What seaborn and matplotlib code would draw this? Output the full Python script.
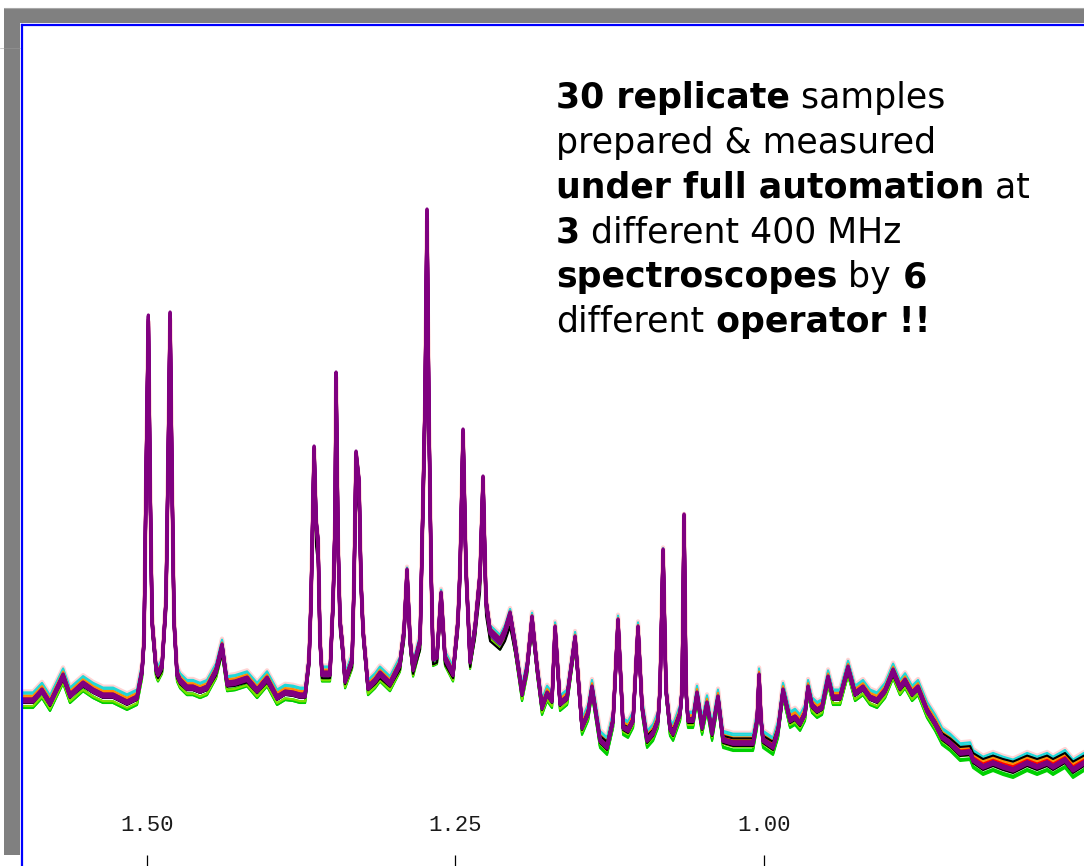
import matplotlib
matplotlib.use("Agg")
import matplotlib.pyplot as plt
import numpy as np
import pandas as pd
import seaborn as sns
from matplotlib.patches import Rectangle
from matplotlib.lines import Line2D

# Reference 1H NMR trace (chemical shift in ppm, intensity in a.u.)
shift_ppm = [
    1.6011, 1.5922, 1.5849, 1.5784, 1.5678, 1.5622, 1.5516, 1.5435, 1.5354, 1.5273,
    1.5160, 1.5079, 1.5038, 1.5022, 1.5006, 1.4987, 1.4973, 1.4957, 1.4925, 1.4909,
    1.4876, 1.4844, 1.4828, 1.4811, 1.4795, 1.4779, 1.4755, 1.4730, 1.4674, 1.4625,
    1.4568, 1.4512, 1.4439, 1.4390, 1.4349, 1.4285, 1.4187, 1.4106, 1.4066, 1.4025,
    1.3944, 1.3879, 1.3815, 1.3758, 1.3717, 1.3685, 1.3669, 1.3644, 1.3628, 1.3612,
    1.3596, 1.3580, 1.3515, 1.3490, 1.3474, 1.3466, 1.3450, 1.3434, 1.3418, 1.3393,
    1.3336, 1.3320, 1.3304, 1.3280, 1.3264, 1.3247, 1.3207, 1.3150, 1.3110, 1.3029,
    1.2948, 1.2915, 1.2891, 1.2866, 1.2842, 1.2785, 1.2761, 1.2745, 1.2729, 1.2713,
    1.2696, 1.2680, 1.2648, 1.2615, 1.2583, 1.2518, 1.2478, 1.2461, 1.2437, 1.2413,
    1.2380, 1.2340, 1.2299, 1.2275, 1.2251, 1.2218, 1.2178, 1.2137, 1.2097, 1.2056,
    1.2016, 1.1959, 1.1918, 1.1878, 1.1837, 1.1797, 1.1756, 1.1716, 1.1691, 1.1651,
    1.1594, 1.1529, 1.1473, 1.1424, 1.1392, 1.1327, 1.1270, 1.1221, 1.1181, 1.1140,
    1.1100, 1.1059, 1.1019, 1.0986, 1.0946, 1.0897, 1.0857, 1.0841, 1.0816, 1.0792,
    1.0760, 1.0735, 1.0678, 1.0662, 1.0646, 1.0630, 1.0614, 1.0573, 1.0541, 1.0500,
    1.0460, 1.0419, 1.0371, 1.0330, 1.0249, 1.0168, 1.0087, 1.0054, 1.0038, 1.0022,
    1.0006, 0.9925, 0.9884, 0.9844, 0.9787, 0.9747, 0.9706, 0.9666, 0.9641, 0.9609,
    0.9568, 0.9528, 0.9479, 0.9439, 0.9382, 0.9317, 0.9260, 0.9196, 0.9139, 0.9082,
    0.9017, 0.8952, 0.8896, 0.8855, 0.8798, 0.8750, 0.8677, 0.8612, 0.8555, 0.8490,
    0.8409, 0.8328, 0.8304, 0.8223, 0.8142, 0.8061, 0.7980, 0.7866, 0.7785, 0.7704,
    0.7656, 0.7559, 0.7494, 0.7405,
]
intensity = [
    60, 60, 70, 57, 85, 65, 77, 70, 65, 65,
    58, 63, 90, 120, 280, 444, 280, 140, 92, 87,
    95, 160, 290, 447, 280, 140, 87, 80, 73, 73,
    70, 73, 90, 115, 77, 78, 82, 70, 76, 82,
    63, 68, 67, 65, 65, 100, 160, 313, 240, 220,
    120, 87, 87, 160, 240, 387, 220, 140, 120, 80,
    100, 180, 308, 280, 180, 130, 73, 80, 87, 77,
    97, 130, 190, 120, 92, 120, 267, 360, 550, 343,
    193, 103, 105, 167, 103, 87, 140, 193, 330, 193,
    100, 133, 187, 283, 160, 130, 125, 120, 130, 147,
    117, 67, 93, 143, 93, 53, 67, 60, 133, 57,
    63, 123, 33, 47, 73, 20, 13, 40, 140, 33,
    30, 40, 133, 53, 20, 27, 40, 70, 210, 70,
    32, 27, 47, 70, 245, 70, 40, 40, 67, 33,
    57, 27, 63, 20, 17, 17, 17, 40, 85, 40,
    20, 13, 30, 70, 40, 43, 37, 47, 73, 55,
    50, 53, 83, 63, 63, 93, 67, 73, 63, 60,
    70, 90, 73, 80, 67, 73, 50, 37, 23, 17,
    7, 8, 0, -7, -3, -7, -10, -3, -7, -3,
    -7, 0, -10, -3,
]

# 30 replicate acquisitions: trace colour, baseline offset and scaling
rep_color = [
    "#ffd4d4", "#ffd4d4", "#ffd4d4", "#20d8d8", "#20d8d8", "#20d8d8",
    "#00d000", "#00d000", "#00d000", "#80e000",
    "#ff8c00", "#ff8c00", "#ff8c00", "#ff0000", "#ff0000", "#ff0000",
    "#3355ff", "#3355ff", "#000000", "#000000", "#000000",
    "#800080", "#800080", "#800080", "#800080", "#800080",
    "#800080", "#800080", "#800080", "#800080",
]
rep_offset = [
    11, 8, 6, 10, 8, 6,
    -8, -6, -7, -3,
    6, 4, 3, 2, -1, 3,
    1, -2, 7, 0, -3,
    0, 1, -1, 0, 1, -1, 0, 0, 1,
]
rep_gain = [
    0.96, 0.97, 0.95, 0.96, 0.97, 0.94,
    1.00, 0.97, 1.01, 0.95,
    0.97, 0.96, 0.99, 0.99, 1.00, 0.93,
    0.95, 0.99, 0.86, 0.97, 1.00,
    1.00, 0.99, 1.00, 0.98, 1.00, 0.99, 0.97, 1.00, 0.99,
]

tick_ppm = [1.50, 1.25, 1.00]
tick_labels = ["1.50", "1.25", "1.00"]

note_lines = [
    [("30 replicate", "bold"), (" samples", "normal")],
    [("prepared & measured", "normal")],
    [("under full automation", "bold"), (" at", "normal")],
    [("3", "bold"), (" different 400 MHz", "normal")],
    [("spectroscopes", "bold"), (" by", "normal"), (" 6", "bold")],
    [("different", "normal"), (" operator !!", "bold")],
]

# Long-form table of all replicate spectra
base = np.asarray(intensity, dtype=float)
frames = []
for i, (c, off, g) in enumerate(zip(rep_color, rep_offset, rep_gain)):
    frames.append(pd.DataFrame({
        "ppm": shift_ppm,
        "signal": base * g + off,
        "replicate": f"r{i + 1:02d}",
        "color": c,
    }))
spectra = pd.concat(frames, ignore_index=True)
palette = {f"r{i + 1:02d}": c for i, c in enumerate(rep_color)}

sns.set_style("white")

W, H = 1084, 866
fig = plt.figure(figsize=(W / 100, H / 100), dpi=100)
fig.patch.set_facecolor("white")


def fx(px):
    return px / W


def fy(py):
    return 1 - py / H


# grey window frame
fig.patches.append(Rectangle((fx(4), fy(23)), fx(1080), 15 / H,
                             transform=fig.transFigure, facecolor="#808080",
                             edgecolor="none", zorder=0))
fig.patches.append(Rectangle((fx(4), fy(855)), fx(16), 847 / H,
                             transform=fig.transFigure, facecolor="#808080",
                             edgecolor="none", zorder=0))
fig.add_artist(Line2D([fx(4), 1], [fy(7.5), fy(7.5)], transform=fig.transFigure,
                      color="#a8a8a8", lw=0.8))
fig.add_artist(Line2D([0, fx(20)], [fy(48), fy(48)], transform=fig.transFigure,
                      color="#9a9a9a", lw=0.6, alpha=0.6))

ax = fig.add_axes([fx(22), 0, 1 - fx(22), (H - 25) / H])
ax.set_facecolor("white")

halo = spectra[spectra["color"] == "#ffd4d4"]
others = spectra[~spectra["color"].isin(["#800080", "#ffd4d4"])]
purple = spectra[spectra["color"] == "#800080"]
line_kw = dict(estimator=None, sort=False, legend=False, ax=ax,
               solid_joinstyle="round", solid_capstyle="round")
sns.lineplot(data=halo, x="ppm", y="signal", hue="replicate", palette=palette,
             lw=3.0, **line_kw)
sns.lineplot(data=others, x="ppm", y="signal", hue="replicate", palette=palette,
             lw=1.5, **line_kw)
sns.lineplot(data=purple, x="ppm", y="signal", hue="replicate", palette=palette,
             lw=2.3, **line_kw)

ax.set_xlim(1.6011, 0.7405)
ax.set_ylim(-106, 735)
ax.set_xlabel("")
ax.set_ylabel("")
ax.set_yticks([])
ax.set_xticks(tick_ppm, tick_labels)
ax.tick_params(axis="x", direction="in", length=8, width=0.9, color="black",
               pad=-37, labelsize=16, labelcolor="#1a1a1a", bottom=True)
for lab in ax.get_xticklabels():
    lab.set_fontfamily("Liberation Mono")
for side in ("right", "bottom"):
    ax.spines[side].set_visible(False)
for side in ("left", "top"):
    ax.spines[side].set_color("#0000ff")
    ax.spines[side].set_linewidth(1.6)

# annotation block with mixed weights
renderer = fig.canvas.get_renderer()
for k, pieces in enumerate(note_lines):
    x = 556
    yb = 108 + k * 44.8
    for s, w in pieces:
        t = fig.text(fx(x), fy(yb), s, fontsize=25, fontweight=w,
                     family="DejaVu Sans", va="baseline", ha="left", color="black")
        x += t.get_window_extent(renderer).width

fig.savefig("out.png", dpi=100, facecolor="white")
